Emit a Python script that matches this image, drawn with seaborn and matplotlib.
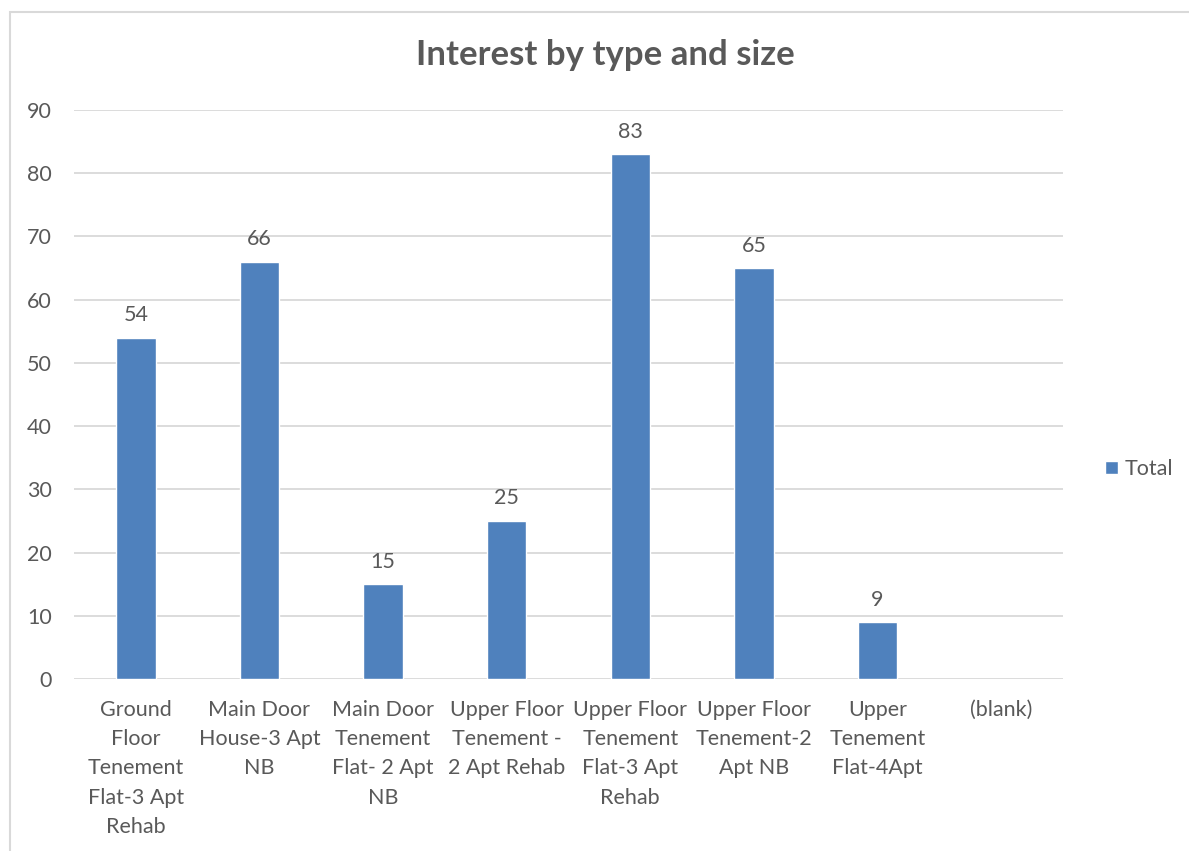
import numpy as np
import pandas as pd
import matplotlib
matplotlib.use("Agg")
import matplotlib.pyplot as plt
from matplotlib.patches import Rectangle
import seaborn as sns

# Property types (wrapped as they appear under the axis) and interest counts
categories = [
    "Ground\nFloor\nTenement\nFlat-3 Apt\nRehab",
    "Main Door\nHouse-3 Apt\nNB",
    "Main Door\nTenement\nFlat- 2 Apt\nNB",
    "Upper Floor\nTenement -\n2 Apt Rehab",
    "Upper Floor\nTenement\nFlat-3 Apt\nRehab",
    "Upper Floor\nTenement-2\nApt NB",
    "Upper\nTenement\nFlat-4Apt",
    "(blank)",
]
totals = [54, 66, 15, 25, 83, 65, 9, np.nan]
y_ticks = [0, 10, 20, 30, 40, 50, 60, 70, 80, 90]

BAR = "#4F81BD"
TEXT = "#595959"
GRID = "#D9D9D9"
FS = 15.5

sns.set_theme(style="white")
plt.rcParams["font.family"] = ["Lato", "DejaVu Sans"]

df = pd.DataFrame({"category": categories, "Total": totals})

fig = plt.figure(figsize=(11.89, 8.51), dpi=100)
ax = fig.add_axes([74 / 1189, 1 - 679 / 851, (1063 - 74) / 1189, (679 - 110) / 851])

sns.barplot(data=df, x="category", y="Total", order=categories, color=BAR,
            saturation=1, width=0.32, ax=ax, label="Total")

ax.set_ylim(0, 90)
ax.set_xlim(-0.5, len(categories) - 0.5)
ax.set_yticks(y_ticks)
ax.yaxis.grid(True, color=GRID, linewidth=1.3)
ax.set_axisbelow(True)
for s in ["top", "right", "left", "bottom"]:
    ax.spines[s].set_visible(False)
ax.tick_params(axis="both", length=0, colors=TEXT, labelsize=FS)
ax.tick_params(axis="y", pad=16)
ax.tick_params(axis="x", pad=15)
ax.set_xticks(range(len(categories)))
ax.set_xticklabels(categories, linespacing=1.58, color=TEXT, fontsize=FS)
ax.set_xlabel("")
ax.set_ylabel("")

# Value labels above bars
for i, v in enumerate(totals):
    if not np.isnan(v):
        ax.annotate(f"{v:g}", (i, v), xytext=(0, 9), textcoords="offset points",
                    ha="center", va="bottom", fontsize=FS, color=TEXT)

fig.text(605 / 1189, 1 - 55 / 851, "Interest by type and size",
         ha="center", va="center", fontsize=25, fontweight="bold", color=TEXT)

leg = ax.legend(loc="center left", bbox_to_anchor=((1105 - 74) / 989, (679 - 469) / 569),
                frameon=False, fontsize=FS, handlelength=0.6, handleheight=0.6,
                handletextpad=0.3, borderpad=0, borderaxespad=0)
for t in leg.get_texts():
    t.set_color(TEXT)

# Chart frame
fig.patches.append(Rectangle((10 / 1189, -0.1), 1.2, 1 - 12 / 851 + 0.1,
                             transform=fig.transFigure, fill=False,
                             edgecolor=GRID, linewidth=1.5))

fig.savefig("out.png", dpi=100)
